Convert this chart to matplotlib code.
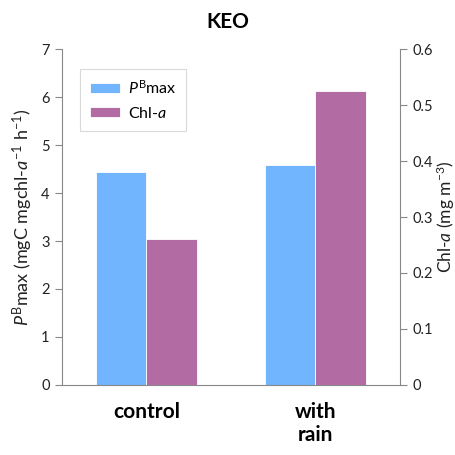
import matplotlib
matplotlib.use("Agg")
import matplotlib.pyplot as plt
import numpy as np

plt.rcParams['font.family'] = ['Lato', 'DejaVu Sans']
plt.rcParams['mathtext.fontset'] = 'custom'
plt.rcParams['mathtext.rm'] = 'Lato'
plt.rcParams['mathtext.it'] = 'Lato:italic'
plt.rcParams['mathtext.bf'] = 'Lato:bold'

categories = ['control', 'with\nrain']
pbmax = [4.43, 4.59]
chla = [0.26, 0.525]
left_ticks = [0, 1, 2, 3, 4, 5, 6, 7]
right_ticks = [0, 0.1, 0.2, 0.3, 0.4, 0.5, 0.6]

blue = '#70b5fe'
purple = '#b36ba3'
gray = '#888888'

fig = plt.figure(figsize=(4.56, 4.55), dpi=100)
ax = fig.add_axes([0.136, 0.154, 0.741, 0.738])
ax2 = ax.twinx()

x = np.arange(len(categories))
w = 0.3
b1 = ax.bar(x - w/2, pbmax, w, color=blue, edgecolor='white', linewidth=0.6)
b2 = ax2.bar(x + w/2, chla, w, color=purple, edgecolor='white', linewidth=0.6)

ax.set_xlim(-0.5, 1.5)
ax.set_ylim(0, 7)
ax2.set_ylim(0, 0.6)
ax.set_yticks(left_ticks)
ax2.set_yticks(right_ticks)
ax2.set_yticklabels(['0', '0.1', '0.2', '0.3', '0.4', '0.5', '0.6'])
ax.set_xticks(x)
ax.set_xticklabels(categories, fontsize=15, fontweight='bold')
ax.tick_params(axis='x', length=0, pad=12)

for a in (ax, ax2):
    a.spines['top'].set_visible(False)
    for s in a.spines.values():
        s.set_color(gray)
    a.tick_params(axis='y', colors=gray, labelcolor='#222222', labelsize=10.5, direction='out', length=5, pad=4)
ax.spines['right'].set_visible(False)
ax2.spines['left'].set_visible(False)
ax2.spines['bottom'].set_visible(False)

ax.set_ylabel(r'$P^{\mathrm{B}}$max (mgC mgchl-$a^{-1}$ h$^{-1}$)', fontsize=13, color='#222222', labelpad=4)
ax2.set_ylabel(r'Chl-$a$ (mg m$^{-3}$)', fontsize=12.5, color='#222222', labelpad=1)

fig.text(0.5, 0.952, 'KEO', ha='center', va='center', fontsize=15, fontweight='bold')

leg = ax.legend([b1, b2], [r'$P^{\mathrm{B}}$max', r'Chl-$a$'], loc='upper left',
                bbox_to_anchor=(0.03, 0.965), fontsize=11.5, frameon=True, fancybox=False,
                edgecolor='#d0d0d0', handlelength=1.9, handleheight=0.55, handletextpad=0.5,
                borderpad=0.6, labelspacing=0.6)
leg.get_frame().set_linewidth(0.8)

fig.savefig('out.png', dpi=100)
